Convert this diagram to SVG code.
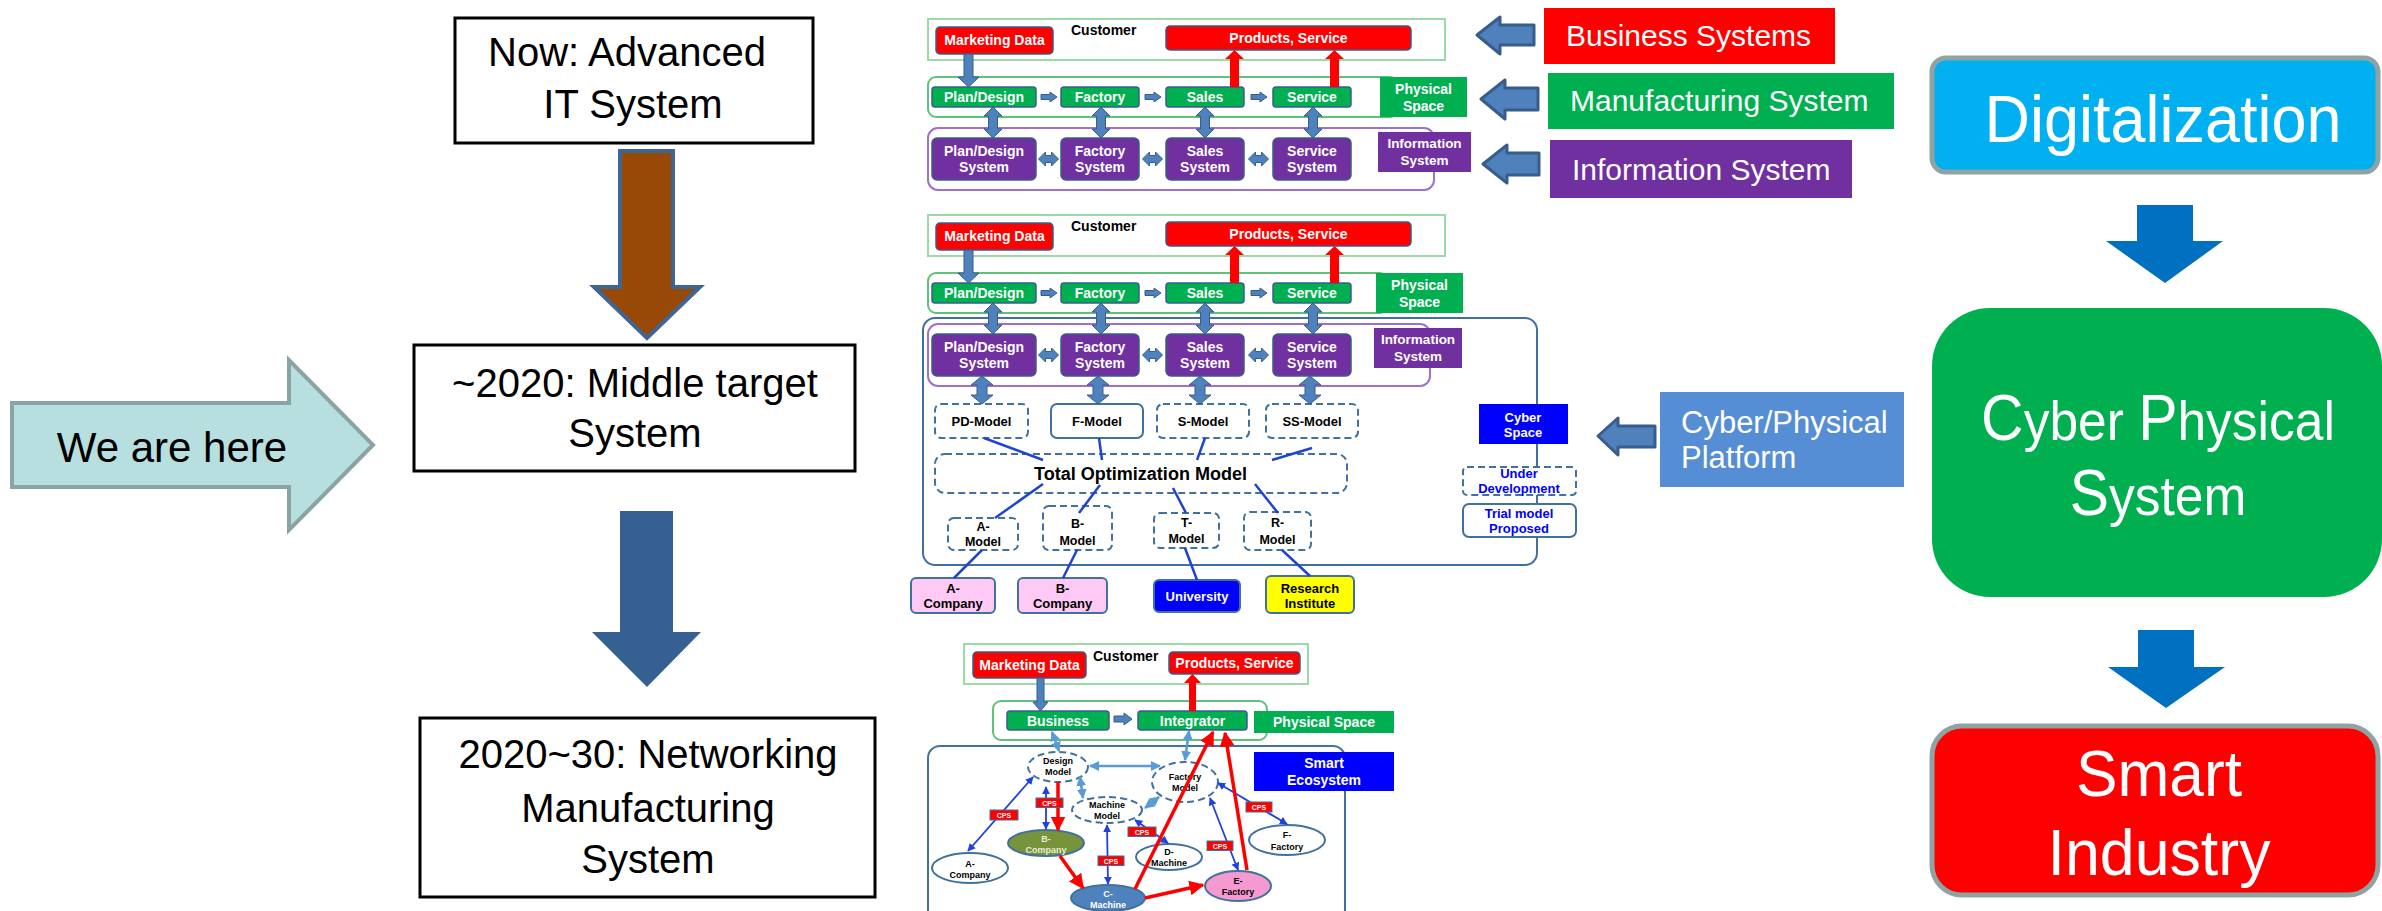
<svg xmlns="http://www.w3.org/2000/svg" width="2382" height="911" viewBox="0 0 2382 911">
<defs>
<style>
text{font-family:"Liberation Sans",Arial,sans-serif}
.big{font-size:40px;fill:#000;text-anchor:middle}
.box{fill:#fff;stroke:#000;stroke-width:3}
.wb{fill:#fff;font-weight:bold;font-size:14px;text-anchor:middle}
.kb{fill:#000;font-weight:bold;font-size:13px;text-anchor:middle}
.bb{fill:#0000ff;font-weight:bold;font-size:13px;text-anchor:middle}
.e9{font-weight:bold;font-size:9px;text-anchor:middle;fill:#000}
.red{fill:#ff0000;stroke:#385d8a;stroke-width:1.5}
.grn{fill:#00b050;stroke:#385d8a;stroke-width:1.5}
.pur{fill:#7030a0;stroke:#385d8a;stroke-width:1.5}
.ba{fill:#4f81bd;stroke:#385d8a;stroke-width:1}
.ra{fill:#ff0000}
.dsh{fill:#fff;stroke:#41719c;stroke-width:2;stroke-dasharray:7 4}
.sol{fill:#fff;stroke:#41719c;stroke-width:2}
.gout{fill:#fff;stroke:#9dd9a8;stroke-width:2}
.gout2{fill:none;stroke:#5fc27a;stroke-width:2}
.pout{fill:none;stroke:#a070d0;stroke-width:2}
.bout{fill:none;stroke:#41719c;stroke-width:2}
.ln{stroke:#1f45d0;stroke-width:2.5;fill:none}
.tb{stroke:#2040e0;stroke-width:1.8;fill:none;marker-start:url(#mb);marker-end:url(#mb)}
.lb{stroke:#5b9bd5;stroke-width:2.5;fill:none;marker-start:url(#ml);marker-end:url(#ml)}
.rl{stroke:#ff0000;stroke-width:3.5;fill:none;marker-end:url(#mr)}
.cps rect{fill:#ff0000;stroke:#41719c;stroke-width:1}
.cps text{fill:#fff;font-weight:bold;font-size:7px;text-anchor:middle}
.bigw{fill:#fff;font-size:65px;text-anchor:middle}
.lab{fill:#fff;font-size:30px}
.rarr{fill:#4f81bd;stroke:#385d8a;stroke-width:3;stroke-linejoin:round}
.blk{fill:#0070c0}
.cap{font-size:64px}
.sm{font-size:56px}
</style>
<marker id="mb" viewBox="0 0 10 10" refX="9" refY="5" markerWidth="8" markerHeight="8" markerUnits="userSpaceOnUse" orient="auto-start-reverse"><path d="M0,0 L10,5 L0,10 z" fill="#2040e0"/></marker>
<marker id="ml" viewBox="0 0 10 10" refX="9" refY="5" markerWidth="10" markerHeight="10" markerUnits="userSpaceOnUse" orient="auto-start-reverse"><path d="M0,0 L10,5 L0,10 z" fill="#5b9bd5"/></marker>
<marker id="mr" viewBox="0 0 10 10" refX="9" refY="5" markerWidth="15" markerHeight="15" markerUnits="userSpaceOnUse" orient="auto"><path d="M0,0 L10,5 L0,10 z" fill="#ff0000"/></marker>
<path id="dv" d="M0,0 L9,9 L4.5,9 L4.5,22 L9,22 L0,31 L-9,22 L-4.5,22 L-4.5,9 L-9,9 Z"/>
<path id="dv2" d="M0,0 L11,9 L5,9 L5,19 L11,19 L0,28 L-11,19 L-5,19 L-5,9 L-11,9 Z"/>
<path id="dh" d="M0,0 L7,-7 L7,-3.5 L13,-3.5 L13,-7 L20,0 L13,7 L13,3.5 L7,3.5 L7,7 Z"/>
<path id="ar" d="M0,-2.5 L9,-2.5 L9,-5 L16,0 L9,5 L9,2.5 L0,2.5 Z"/>
</defs>
<rect width="2382" height="911" fill="#fff"/>

<!-- LEFT COLUMN -->
<g id="we-are-here">
<polygon points="12,403 289,403 289,360 373,445 289,530 289,487 12,487" fill="#b7dfe0" stroke="#8aa3a3" stroke-width="4"/>
<text x="172" y="462" font-size="42" text-anchor="middle" fill="#000">We are here</text>
</g>
<g id="now-box">
<rect x="455" y="18" width="358" height="125" class="box"/>
<text x="627" y="66" class="big">Now: Advanced</text>
<text x="633" y="118" class="big">IT System</text>
</g>
<g id="middle-box">
<rect x="414" y="345" width="441" height="126" class="box"/>
<text x="635" y="397" class="big">~2020: Middle target</text>
<text x="635" y="447" class="big">System</text>
</g>
<g id="network-box">
<rect x="420" y="718" width="455" height="179" class="box"/>
<text x="648" y="768" class="big">2020~30: Networking</text>
<text x="648" y="822" class="big">Manufacturing</text>
<text x="648" y="873" class="big">System</text>
</g>

<!-- RIGHT COLUMN -->
<g id="digitalization">
<rect x="1932" y="58" width="446" height="114" rx="14" fill="#00b0f0" stroke="#8fa3a3" stroke-width="5"/>
<text x="2163" y="142" class="bigw" style="font-size:67px" textLength="357" lengthAdjust="spacingAndGlyphs">Digitalization</text>
</g>
<g id="cps-system">
<rect x="1932" y="308" width="450" height="289" rx="58" fill="#00b050"/>
<g transform="translate(2158 0) scale(0.92 1) translate(-2158 0)">
<text x="2158" y="440" fill="#fff" text-anchor="middle"><tspan class="cap">C</tspan><tspan class="sm">yber </tspan><tspan class="cap">P</tspan><tspan class="sm">hysical</tspan></text>
<text x="2158" y="515" fill="#fff" text-anchor="middle"><tspan class="cap">S</tspan><tspan class="sm">ystem</tspan></text>
</g>
</g>
<g id="smart-industry">
<rect x="1932" y="726" width="446" height="169" rx="30" fill="#ff0000" stroke="#8fa3a3" stroke-width="5"/>
<text x="2159" y="796" class="bigw" textLength="166" lengthAdjust="spacingAndGlyphs">Smart</text>
<text x="2159" y="875" class="bigw" textLength="223" lengthAdjust="spacingAndGlyphs">Industry</text>
</g>

<!-- LABEL BOXES -->
<g id="business-systems">
<rect x="1544" y="8" width="291" height="56" fill="#ff0000"/>
<text x="1566" y="46" class="lab">Business Systems</text>
</g>
<g id="manufacturing-system">
<rect x="1548" y="73" width="346" height="56" fill="#00b050"/>
<text x="1570" y="111" class="lab">Manufacturing System</text>
</g>
<g id="information-system">
<rect x="1550" y="140" width="302" height="58" fill="#7030a0"/>
<text x="1572" y="180" class="lab">Information System</text>
</g>
<g id="cyber-platform">
<rect x="1660" y="392" width="244" height="95" fill="#558ed5"/>
<text x="1681" y="433" fill="#fff" font-size="31">Cyber/Physical</text>
<text x="1681" y="468" fill="#fff" font-size="31">Platform</text>
</g>

<!-- DIAGRAM A -->
<g id="diagA">
<g id="a-customer"><rect x="928" y="19" width="517" height="41" class="gout"/><text x="1071" y="35" font-weight="bold" font-size="14">Customer</text></g>
<g id="a-marketing"><rect x="936" y="27" width="117" height="27" rx="4" class="red"/><text x="994.5" y="45" class="wb">Marketing Data</text></g>
<g id="a-products"><rect x="1166" y="26" width="245" height="24" rx="4" class="red"/><text x="1288.5" y="43" class="wb">Products, Service</text></g>
<rect id="a-phys-outline" x="928" y="77" width="470" height="40" rx="8" class="gout2"/>
<g id="a-phys-label"><rect x="1380" y="77" width="87" height="40" fill="#00b050"/><text x="1423.5" y="94" class="wb">Physical</text><text x="1423.5" y="111" class="wb">Space</text></g>
<g id="a-plan"><rect x="932" y="87" width="104" height="20" rx="3" class="grn"/><text x="984" y="102" class="wb">Plan/Design</text></g>
<g id="a-factory"><rect x="1061" y="87" width="78" height="20" rx="3" class="grn"/><text x="1100" y="102" class="wb">Factory</text></g>
<g id="a-sales"><rect x="1166" y="87" width="78" height="20" rx="3" class="grn"/><text x="1205" y="102" class="wb">Sales</text></g>
<g id="a-service"><rect x="1273" y="87" width="78" height="20" rx="3" class="grn"/><text x="1312" y="102" class="wb">Service</text></g>
<rect id="a-info-outline" x="928" y="128" width="506" height="62" rx="10" class="pout"/>
<g id="a-info-label"><rect x="1378" y="132" width="93" height="40" fill="#7030a0"/><text x="1424.5" y="148" class="wb" style="font-size:13.5px">Information</text><text x="1424.5" y="165" class="wb" style="font-size:13.5px">System</text></g>
<g id="a-plan-sys"><rect x="932" y="138" width="104" height="42" rx="5" class="pur"/><text x="984" y="156" class="wb">Plan/Design</text><text x="984" y="172" class="wb">System</text></g>
<g id="a-factory-sys"><rect x="1061" y="138" width="78" height="42" rx="5" class="pur"/><text x="1100" y="156" class="wb">Factory</text><text x="1100" y="172" class="wb">System</text></g>
<g id="a-sales-sys"><rect x="1166" y="138" width="78" height="42" rx="5" class="pur"/><text x="1205" y="156" class="wb">Sales</text><text x="1205" y="172" class="wb">System</text></g>
<g id="a-service-sys"><rect x="1273" y="138" width="78" height="42" rx="5" class="pur"/><text x="1312" y="156" class="wb">Service</text><text x="1312" y="172" class="wb">System</text></g>
</g>

<!-- DIAGRAM B -->
<rect id="b-cyber-outline" x="923" y="318" width="614" height="247" rx="12" class="bout"/>
<g id="diagB" transform="translate(0,196)">
<g id="b-customer"><rect x="928" y="19" width="517" height="41" class="gout"/><text x="1071" y="35" font-weight="bold" font-size="14">Customer</text></g>
<g id="b-marketing"><rect x="936" y="27" width="117" height="27" rx="4" class="red"/><text x="994.5" y="45" class="wb">Marketing Data</text></g>
<g id="b-products"><rect x="1166" y="26" width="245" height="24" rx="4" class="red"/><text x="1288.5" y="43" class="wb">Products, Service</text></g>
<rect id="b-phys-outline" x="928" y="77" width="460" height="40" rx="8" class="gout2"/>
<g id="b-phys-label"><rect x="1376" y="77" width="87" height="40" fill="#00b050"/><text x="1419.5" y="94" class="wb">Physical</text><text x="1419.5" y="111" class="wb">Space</text></g>
<g id="b-plan"><rect x="932" y="87" width="104" height="20" rx="3" class="grn"/><text x="984" y="102" class="wb">Plan/Design</text></g>
<g id="b-factory"><rect x="1061" y="87" width="78" height="20" rx="3" class="grn"/><text x="1100" y="102" class="wb">Factory</text></g>
<g id="b-sales"><rect x="1166" y="87" width="78" height="20" rx="3" class="grn"/><text x="1205" y="102" class="wb">Sales</text></g>
<g id="b-service"><rect x="1273" y="87" width="78" height="20" rx="3" class="grn"/><text x="1312" y="102" class="wb">Service</text></g>
<rect id="b-info-outline" x="928" y="128" width="502" height="62" rx="10" class="pout"/>
<g id="b-info-label"><rect x="1374" y="132" width="88" height="40" fill="#7030a0"/><text x="1418" y="148" class="wb" style="font-size:13.5px">Information</text><text x="1418" y="165" class="wb" style="font-size:13.5px">System</text></g>
<g id="b-plan-sys"><rect x="932" y="138" width="104" height="42" rx="5" class="pur"/><text x="984" y="156" class="wb">Plan/Design</text><text x="984" y="172" class="wb">System</text></g>
<g id="b-factory-sys"><rect x="1061" y="138" width="78" height="42" rx="5" class="pur"/><text x="1100" y="156" class="wb">Factory</text><text x="1100" y="172" class="wb">System</text></g>
<g id="b-sales-sys"><rect x="1166" y="138" width="78" height="42" rx="5" class="pur"/><text x="1205" y="156" class="wb">Sales</text><text x="1205" y="172" class="wb">System</text></g>
<g id="b-service-sys"><rect x="1273" y="138" width="78" height="42" rx="5" class="pur"/><text x="1312" y="156" class="wb">Service</text><text x="1312" y="172" class="wb">System</text></g>
</g>
<g id="b-pd-model"><rect x="935" y="404" width="93" height="34" rx="6" class="dsh"/><text x="981.5" y="426" class="kb">PD-Model</text></g>
<g id="b-f-model"><rect x="1051" y="404" width="92" height="34" rx="6" class="sol"/><text x="1097" y="426" class="kb">F-Model</text></g>
<g id="b-s-model"><rect x="1157" y="404" width="92" height="34" rx="6" class="dsh"/><text x="1203" y="426" class="kb">S-Model</text></g>
<g id="b-ss-model"><rect x="1266" y="404" width="92" height="34" rx="6" class="dsh"/><text x="1312" y="426" class="kb">SS-Model</text></g>
<g id="b-total"><rect x="935" y="454" width="412" height="39" rx="10" class="dsh"/><text x="1140.5" y="480" class="kb" style="font-size:18px" textLength="213" lengthAdjust="spacingAndGlyphs">Total Optimization Model</text></g>
<g id="b-a-model"><rect x="948" y="518" width="70" height="32" rx="6" class="dsh"/><text x="983" y="531" class="kb" style="font-size:12.5px">A-</text><text x="983" y="546" class="kb" style="font-size:12.5px">Model</text></g>
<g id="b-b-model"><rect x="1043" y="506" width="69" height="44" rx="6" class="dsh"/><text x="1077.5" y="528" class="kb" style="font-size:12.5px">B-</text><text x="1077.5" y="545" class="kb" style="font-size:12.5px">Model</text></g>
<g id="b-t-model"><rect x="1154" y="513" width="65" height="35" rx="6" class="dsh"/><text x="1186.5" y="527" class="kb" style="font-size:12.5px">T-</text><text x="1186.5" y="543" class="kb" style="font-size:12.5px">Model</text></g>
<g id="b-r-model"><rect x="1244" y="512" width="67" height="38" rx="6" class="dsh"/><text x="1277.5" y="527" class="kb" style="font-size:12.5px">R-</text><text x="1277.5" y="544" class="kb" style="font-size:12.5px">Model</text></g>
<g id="b-a-company"><rect x="911" y="578" width="84" height="35" rx="5" fill="#ffc9f5" stroke="#41719c" stroke-width="2"/><text x="953" y="593" class="kb">A-</text><text x="953" y="608" class="kb">Company</text></g>
<g id="b-b-company"><rect x="1018" y="578" width="89" height="35" rx="5" fill="#ffc9f5" stroke="#41719c" stroke-width="2"/><text x="1062.5" y="593" class="kb">B-</text><text x="1062.5" y="608" class="kb">Company</text></g>
<g id="b-university"><rect x="1154" y="580" width="86" height="32" rx="5" fill="#0000ff" stroke="#41719c" stroke-width="2"/><text x="1197" y="601" class="wb" style="font-size:13px">University</text></g>
<g id="b-research"><rect x="1266" y="576" width="88" height="37" rx="5" fill="#ffff00" stroke="#41719c" stroke-width="2"/><text x="1310" y="593" class="kb">Research</text><text x="1310" y="608" class="kb">Institute</text></g>
<g id="b-cyber-space"><rect x="1479" y="404" width="89" height="40" fill="#0000ff"/><text x="1523" y="422" class="wb" style="font-size:13px">Cyber</text><text x="1523" y="437" class="wb" style="font-size:13px">Space</text></g>
<g id="b-under-dev"><rect x="1463" y="467" width="113" height="28" rx="4" class="dsh"/><text x="1519" y="478" class="bb">Under</text><text x="1519" y="493" class="bb">Development</text></g>
<g id="b-trial"><rect x="1463" y="504" width="113" height="33" rx="6" class="sol"/><text x="1519" y="518" class="bb">Trial model</text><text x="1519" y="533" class="bb">Proposed</text></g>

<!-- DIAGRAM C -->
<g id="diagC">
<rect id="c-eco-outline" x="928" y="746" width="417" height="220" rx="12" class="bout"/>
<g id="c-customer"><rect x="964" y="644" width="344" height="40" class="gout"/><text x="1093" y="661" font-weight="bold" font-size="14">Customer</text></g>
<g id="c-marketing"><rect x="973" y="652" width="113" height="26" rx="4" class="red"/><text x="1029.5" y="670" class="wb">Marketing Data</text></g>
<g id="c-products"><rect x="1169" y="652" width="131" height="22" rx="4" class="red"/><text x="1234.5" y="668" class="wb">Products, Service</text></g>
<rect id="c-phys-outline" x="993" y="701" width="274" height="39" rx="8" class="gout2"/>
<g id="c-phys-label"><rect x="1254" y="711" width="140" height="22" fill="#00b050"/><text x="1324" y="727" class="wb">Physical Space</text></g>
<g id="c-business"><rect x="1007" y="711" width="102" height="19" rx="3" class="grn"/><text x="1058" y="725.5" class="wb">Business</text></g>
<g id="c-integrator"><rect x="1138" y="711" width="109" height="19" rx="3" class="grn"/><text x="1192.5" y="725.5" class="wb">Integrator</text></g>
<g id="c-smart-eco"><rect x="1254" y="752" width="140" height="39" fill="#0000ff"/><text x="1324" y="768" class="wb">Smart</text><text x="1324" y="785" class="wb">Ecosystem</text></g>
<g id="c-design"><ellipse cx="1058" cy="767" rx="30" ry="15" class="dsh"/><text x="1058" y="764" class="e9">Design</text><text x="1058" y="775" class="e9">Model</text></g>
<g id="c-factory-model"><ellipse cx="1185" cy="782" rx="33" ry="20" class="dsh"/><text x="1185" y="780" class="e9">Factory</text><text x="1185" y="791" class="e9">Model</text></g>
<g id="c-machine-model"><ellipse cx="1107" cy="810" rx="35" ry="13" class="dsh"/><text x="1107" y="808" class="e9">Machine</text><text x="1107" y="819" class="e9">Model</text></g>
<g id="c-a-company"><ellipse cx="970" cy="868" rx="38" ry="15" class="sol"/><text x="970" y="867" class="e9">A-</text><text x="970" y="878" class="e9">Company</text></g>
<g id="c-b-company"><ellipse cx="1046" cy="843" rx="38" ry="13" fill="#77933c" stroke="#41719c" stroke-width="2"/><text x="1046" y="842" class="e9" style="fill:#e8ecd8">B-</text><text x="1046" y="853" class="e9" style="fill:#e8ecd8">Company</text></g>
<g id="c-c-machine"><ellipse cx="1108" cy="898" rx="37" ry="13" fill="#4f81bd" stroke="#41719c" stroke-width="2"/><text x="1108" y="897" class="e9" style="fill:#fff">C-</text><text x="1108" y="908" class="e9" style="fill:#fff">Machine</text></g>
<g id="c-d-machine"><ellipse cx="1169" cy="857" rx="33" ry="13" class="sol"/><text x="1169" y="855" class="e9">D-</text><text x="1169" y="866" class="e9">Machine</text></g>
<g id="c-e-factory"><ellipse cx="1238" cy="886" rx="33" ry="15" fill="#f49ad0" stroke="#41719c" stroke-width="2"/><text x="1238" y="884" class="e9">E-</text><text x="1238" y="895" class="e9">Factory</text></g>
<g id="c-f-factory"><ellipse cx="1287" cy="840" rx="38" ry="15" class="sol"/><text x="1287" y="838" class="e9">F-</text><text x="1287" y="850" class="e9">Factory</text></g>
</g>

<!-- CONNECTORS -->
<g id="connectors">
<polygon points="620,151 673,151 673,287 700,287 647,338 594,287 620,287" fill="#984807" stroke="#3f6591" stroke-width="4" stroke-linejoin="miter"/>
<polygon points="620,511 673,511 673,632 701,632 647,687 592,632 620,632" fill="#376092"/>
<polygon class="blk" points="2137,205 2193,205 2193,241 2223,241 2165,283 2106,241 2137,241"/>
<polygon class="blk" points="2138,630 2194,630 2194,667 2225,667 2166,708 2108,667 2138,667"/>
<polygon class="rarr" points="1477,35 1500,17 1500,25 1534,25 1534,45 1500,45 1500,54"/>
<polygon class="rarr" points="1481,99 1505,80 1505,88 1538,88 1538,110 1505,110 1505,119"/>
<polygon class="rarr" points="1483,164 1507,145 1507,153 1539,153 1539,175 1507,175 1507,183"/>
<polygon class="rarr" points="1598,436 1618,418 1618,426 1655,426 1655,447 1618,447 1618,455"/>
<g id="conn-a">
<polygon class="ba" points="964,54 973,54 973,77 979,77 968.5,87 958,77 964,77"/>
<use href="#ar" x="1041" y="97" class="ba"/><use href="#ar" x="1145" y="97" class="ba"/><use href="#ar" x="1251" y="97" class="ba"/>
<polygon class="ra" points="1230,87 1239,87 1239,59 1244,59 1234.5,50 1225,59 1230,59"/>
<polygon class="ra" points="1330,87 1339,87 1339,59 1344,59 1334.5,50 1325,59 1330,59"/>
<use href="#dv" x="993" y="107" class="ba"/><use href="#dv" x="1101" y="107" class="ba"/><use href="#dv" x="1205" y="107" class="ba"/><use href="#dv" x="1313" y="107" class="ba"/>
<use href="#dh" x="1038.5" y="159" class="ba"/><use href="#dh" x="1142.5" y="159" class="ba"/><use href="#dh" x="1248.5" y="159" class="ba"/>
</g>
<g id="conn-b">
<g transform="translate(0,196)">
<polygon class="ba" points="964,54 973,54 973,77 979,77 968.5,87 958,77 964,77"/>
<use href="#ar" x="1041" y="97" class="ba"/><use href="#ar" x="1145" y="97" class="ba"/><use href="#ar" x="1251" y="97" class="ba"/>
<polygon class="ra" points="1230,87 1239,87 1239,59 1244,59 1234.5,50 1225,59 1230,59"/>
<polygon class="ra" points="1330,87 1339,87 1339,59 1344,59 1334.5,50 1325,59 1330,59"/>
<use href="#dv" x="993" y="107" class="ba"/><use href="#dv" x="1101" y="107" class="ba"/><use href="#dv" x="1205" y="107" class="ba"/><use href="#dv" x="1313" y="107" class="ba"/>
<use href="#dh" x="1038.5" y="159" class="ba"/><use href="#dh" x="1142.5" y="159" class="ba"/><use href="#dh" x="1248.5" y="159" class="ba"/>
</g>
<use href="#dv2" x="982" y="376" class="ba"/><use href="#dv2" x="1098" y="376" class="ba"/><use href="#dv2" x="1200" y="376" class="ba"/><use href="#dv2" x="1310" y="376" class="ba"/>
<line class="ln" x1="984" y1="438" x2="1043" y2="460"/>
<line class="ln" x1="1099" y1="438" x2="1102" y2="460"/>
<line class="ln" x1="1205" y1="438" x2="1197" y2="460"/>
<line class="ln" x1="1312" y1="448" x2="1272" y2="460"/>
<line class="ln" x1="1043" y1="484" x2="995" y2="518"/>
<line class="ln" x1="1100" y1="485" x2="1079" y2="513"/>
<line class="ln" x1="1173" y1="488" x2="1186" y2="513"/>
<line class="ln" x1="1255" y1="484" x2="1278" y2="513"/>
<line class="ln" x1="982" y1="550" x2="954" y2="578"/>
<line class="ln" x1="1077" y1="550" x2="1063" y2="578"/>
<line class="ln" x1="1185" y1="548" x2="1197" y2="580"/>
<line class="ln" x1="1282" y1="550" x2="1310" y2="576"/>
</g>
<g id="conn-c">
<polygon class="ba" points="1037,678 1044,678 1044,702 1048,702 1040.5,711 1033,702 1037,702"/>
<polygon class="ba" points="1114,716 1124,716 1124,713 1132,719 1124,725 1124,722 1114,722"/>
<polygon class="ra" points="1189,711 1196,711 1196,683 1201,683 1192.5,674 1184,683 1189,683"/>
<line class="lb" x1="1090" y1="766" x2="1160" y2="766"/>
<line class="lb" x1="1052" y1="732" x2="1059" y2="751"/>
<line class="lb" x1="1189" y1="731" x2="1185" y2="760"/>
<line class="lb" x1="1080" y1="777" x2="1083" y2="798"/>
<line class="lb" x1="1145" y1="808" x2="1159" y2="797"/>
<line class="tb" x1="968" y1="851" x2="1033" y2="777"/>
<line class="tb" x1="1046" y1="787" x2="1046" y2="829"/>
<line class="tb" x1="1107" y1="825" x2="1108" y2="884"/>
<line class="tb" x1="1135" y1="820" x2="1168" y2="843"/>
<line class="tb" x1="1210" y1="798" x2="1238" y2="870"/>
<line class="tb" x1="1218" y1="783" x2="1287" y2="824"/>
<line class="rl" x1="1058" y1="782" x2="1058" y2="830"/>
<line class="rl" x1="1060" y1="856" x2="1083" y2="888"/>
<line class="rl" x1="1145" y1="898" x2="1203" y2="885"/>
<line class="rl" x1="1135" y1="889" x2="1213" y2="732"/>
<line class="rl" x1="1247" y1="870" x2="1225" y2="733"/>
<g class="cps"><rect x="990" y="810" width="28" height="10"/><text x="1004" y="818">CPS</text></g>
<g class="cps"><rect x="1036" y="798" width="27" height="9.5"/><text x="1049.5" y="805.5">CPS</text></g>
<g class="cps"><rect x="1128" y="827" width="28" height="9.5"/><text x="1142" y="834.5">CPS</text></g>
<g class="cps"><rect x="1098" y="856" width="26" height="9.5"/><text x="1111" y="863.5">CPS</text></g>
<g class="cps"><rect x="1207" y="841" width="26" height="9.5"/><text x="1220" y="848.5">CPS</text></g>
<g class="cps"><rect x="1246" y="802" width="26" height="10"/><text x="1259" y="810">CPS</text></g>
</g>
</g>
</svg>
